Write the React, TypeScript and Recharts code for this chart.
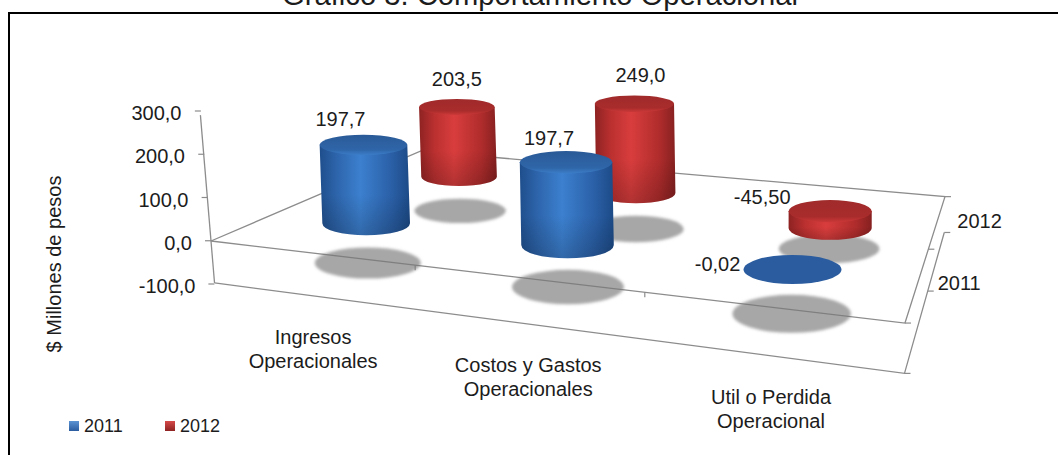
import { Bar, ComposedChart, Legend, XAxis, YAxis } from "recharts";

const categories = ["Ingresos\nOperacionales", "Costos y Gastos\nOperacionales", "Util o Perdida\nOperacional"];
const values2011 = [197.7, 197.7, -0.02];
const values2012 = [203.5, 249.0, -45.5];
const labels2011 = ["197,7", "197,7", "-0,02"];
const labels2012 = ["203,5", "249,0", "-45,50"];
const yTicks = [-100, 0, 100, 200, 300];
const depthLabels = ["2011", "2012"];
const Y_MIN = -100;
const Y_MAX = 300;

const chartData = categories.map((category, i) => ({
	category,
	v2011: values2011[i],
	v2012: values2012[i],
	floor: Y_MIN,
}));

const FONT = '"Liberation Sans", Arial, sans-serif';
const INK = "#1c1c1c";
const AXIS = "#8c8c8c";

// plot area of the flat chart, in page pixels; the custom shapes fold it into 3D
const PLOT = { left: 211, top: 111, width: 694, height: 173 };
const PX_PER_100 = PLOT.height / 4;

// homography of the zero plane: (u along categories, d along depth) to the screen
const H = { a: 543.4, b: 351.9, c: 211, d: 28.3, e: -39.1, f: 241, g: -0.1664, h: 0.3371 };

// the walls lean slightly more than the cylinders do
const WALL_LEAN = 0.000134;
const BAR_LEAN = 0.00007;
const BAR_SHIFT = -2.5;

function project(u: number, d: number, rise = 0, lean = WALL_LEAN) {
	const w = H.g * u + H.h * d + 1;
	const x0 = (H.a * u + H.b * d + H.c) / w;
	const y0 = (H.d * u + H.e * d + H.f) / w;
	return {
		x: x0 - (820 - x0) * lean * rise,
		y: y0 - (rise * 0.97) / w,
		w,
	};
}

// ellipses open up the lower they sit on the screen
const flatten = (y: number) => 0.155 + y * 0.00053;

const uOf = (px: number) => (px - PLOT.left) / PLOT.width;

const SERIES = {
	v2011: {
		name: "2011",
		depth: 0.25,
		labels: labels2011,
		body: "url(#bodyBlue)",
		cap: "url(#capBlue)",
		flat: "#2a5c9f",
		nudge: [[-23, -26], [-17, -24], [-75, -5]],
	},
	v2012: {
		name: "2012",
		depth: 0.75,
		labels: labels2012,
		body: "url(#bodyRed)",
		cap: "url(#capRed)",
		flat: "#a32a2a",
		nudge: [[0, -28], [6, -29], [-68, -14]],
	},
};

function Cylinder(props: any) {
	const { x, width, height, payload, index, seriesKey } = props;
	const s = SERIES[seriesKey as keyof typeof SERIES];
	const value = payload[seriesKey];
	const u = uOf(x + width / 2);
	const rise = Math.abs(height) * Math.sign(value);
	const zero = project(u, s.depth, 0, BAR_LEAN);
	const rx = 46.3 / zero.w;
	const [nx, ny] = s.nudge[index];
	const upper = rise > 0 ? project(u, s.depth, rise, BAR_LEAN) : zero;
	const lower = rise > 0 ? zero : project(u, s.depth, rise, BAR_LEAN);
	const topX = upper.x + BAR_SHIFT;
	const botX = lower.x + BAR_SHIFT;
	const label = (
		<text
			x={topX + nx}
			y={upper.y + ny}
			dy="0.35em"
			textAnchor="middle"
			fontSize={20}
			fontFamily={FONT}
			fill={INK}
		>
			{s.labels[index]}
		</text>
	);

	if (Math.abs(rise) < 1) {
		return (
			<g>
				<ellipse cx={topX} cy={zero.y} rx={rx} ry={rx * flatten(zero.y)} fill={s.flat} />
				{label}
			</g>
		);
	}

	const ryTop = rx * flatten(upper.y);
	const ryBot = rx * flatten(lower.y);
	const body = `M${topX - rx},${upper.y} L${botX - rx},${lower.y} A${rx},${ryBot} 0 0 0 ${botX + rx},${lower.y} L${topX + rx},${upper.y} Z`;
	return (
		<g>
			<path d={body} fill={s.body} />
			<path d={body} fill="url(#bodyFade)" />
			<ellipse cx={topX} cy={upper.y} rx={rx} ry={ryTop} fill={s.cap} />
			{label}
		</g>
	);
}

function Shadow(props: any) {
	const { x, width, height, seriesKey } = props;
	const s = SERIES[seriesKey as keyof typeof SERIES];
	const p = project(uOf(x + width / 2), s.depth, -Math.abs(height));
	const rx = 56 / p.w;
	return (
		<ellipse
			cx={p.x - 3.5}
			cy={p.y}
			rx={rx}
			ry={rx * flatten(p.y)}
			fill="rgba(120,120,120,0.65)"
			filter="url(#shadowBlur)"
		/>
	);
}

function YTick(props: any) {
	const { y, payload } = props;
	const v = payload.value as number;
	const axisX = 211 - v * 0.0338;
	return (
		<g>
			<line x1={axisX - 6} x2={axisX} y1={y} y2={y} stroke={AXIS} strokeWidth={1.2} />
			<text
				x={192 - v * 0.035}
				y={y + 2}
				dy="0.35em"
				textAnchor="end"
				fontSize={20}
				fontFamily={FONT}
				fill={INK}
			>
				{v.toFixed(1).replace(".", ",")}
			</text>
		</g>
	);
}

function XTick(props: any) {
	const { x, payload } = props;
	const p = project(uOf(x), 0, -PX_PER_100);
	const lines = String(payload.value).split("\n");
	return (
		<g>
			{lines.map((line, i) => (
				<text
					key={line}
					x={p.x}
					y={p.y + 41 + i * 24}
					dy="0.35em"
					textAnchor="middle"
					fontSize={20}
					fontFamily={FONT}
					fill={INK}
				>
					{line}
				</text>
			))}
		</g>
	);
}

function pts(list: { x: number; y: number }[]) {
	return list.map((p) => `${p.x},${p.y}`).join(" ");
}

function Floor() {
	const low = -PX_PER_100;
	const edge = { fill: "none", stroke: AXIS, strokeWidth: 1.3 };
	const backZero = [project(0, 0), project(0, 1), project(1, 1), project(1, 0), project(0, 0)];
	const lower = [project(0, 0, low), project(1, 0, low), project(1, 1, low)];
	const rightTicks = [
		project(1, 0),
		project(1, 0.5),
		project(1, 1),
		project(1, 0, low),
		project(1, 0.5, low),
		project(1, 1, low),
	];
	const frontTicks = [project(1 / 3, 0), project(2 / 3, 0)];
	return (
		<g>
			<polyline points={pts(backZero)} {...edge} />
			<polyline points={pts(lower)} {...edge} />
			<polyline points={pts([project(0, 0, PX_PER_100 * 3), project(0, 0, low)])} {...edge} />
			{rightTicks.map((p) => (
				<line key={`${p.x}`} x1={p.x} x2={p.x + 6} y1={p.y} y2={p.y} stroke={AXIS} strokeWidth={1.2} />
			))}
			{frontTicks.map((p) => (
				<line key={p.x} x1={p.x} x2={p.x} y1={p.y} y2={p.y + 5} stroke={AXIS} strokeWidth={1.2} />
			))}
			{depthLabels.map((name, i) => {
				const p = project(1, i === 0 ? 0.25 : 0.75);
				return (
					<text
						key={name}
						x={p.x + 20}
						y={p.y}
						dy="0.35em"
						fontSize={20}
						fontFamily={FONT}
						fill={INK}
					>
						{name}
					</text>
				);
			})}
		</g>
	);
}

function LegendRow() {
	return (
		<div style={{ display: "flex", fontFamily: FONT, fontSize: 18, color: INK, lineHeight: "20px" }}>
			{depthLabels.map((name) => (
				<div key={name} style={{ display: "flex", alignItems: "center", width: 96 }}>
					<span
						style={{
							width: 10,
							height: 10,
							marginRight: 5,
							background:
								name === "2011"
									? "linear-gradient(#5b93d3, #2a5c9f)"
									: "linear-gradient(#d64a4a, #8e2222)",
						}}
					/>
					{name}
				</div>
			))}
		</div>
	);
}

const hiddenAxes = ["shadow2012", "shadow2011", "body2012", "body2011"];

export default function App() {
	return (
		<div style={{ position: "absolute", left: 0, top: 0, width: 1058, height: 455, overflow: "hidden", background: "#fff" }}>
			<ComposedChart
				width={1058}
				height={455}
				data={chartData}
				margin={{ top: PLOT.top, left: PLOT.left - 60, right: 1058 - PLOT.left - PLOT.width, bottom: 111 }}
			>
				<defs>
					<linearGradient id="bodyBlue" x1="0" x2="1" y1="0" y2="0">
						<stop offset="0" stopColor="#1f4e8c" />
						<stop offset="0.2" stopColor="#2e66ad" />
						<stop offset="0.45" stopColor="#3c80cf" />
						<stop offset="0.8" stopColor="#2a5fa6" />
						<stop offset="1" stopColor="#1c4a86" />
					</linearGradient>
					<linearGradient id="bodyRed" x1="0" x2="1" y1="0" y2="0">
						<stop offset="0" stopColor="#8e2222" />
						<stop offset="0.2" stopColor="#bb3030" />
						<stop offset="0.45" stopColor="#d93d3d" />
						<stop offset="0.8" stopColor="#b02c2c" />
						<stop offset="1" stopColor="#862020" />
					</linearGradient>
					<linearGradient id="bodyFade" x1="0" x2="0" y1="0" y2="1">
						<stop offset="0.55" stopColor="#000" stopOpacity={0} />
						<stop offset="1" stopColor="#000" stopOpacity={0.18} />
					</linearGradient>
					<linearGradient id="capBlue" x1="0" x2="0" y1="0" y2="1">
						<stop offset="0" stopColor="#2a5a97" />
						<stop offset="0.75" stopColor="#2f66a9" />
						<stop offset="1" stopColor="#3c7dc8" />
					</linearGradient>
					<linearGradient id="capRed" x1="0" x2="0" y1="0" y2="1">
						<stop offset="0" stopColor="#a02a2a" />
						<stop offset="0.75" stopColor="#a92c2c" />
						<stop offset="1" stopColor="#cc3838" />
					</linearGradient>
					<filter id="shadowBlur" x="-10%" y="-20%" width="120%" height="140%">
						<feGaussianBlur stdDeviation="1.4" />
					</filter>
				</defs>

				<rect x={9} y={13} width={1200} height={600} fill="none" stroke="#000" strokeWidth={2} />
				<text x={540} y={5} textAnchor="middle" fontSize={29.2} fontFamily={FONT} fill={INK}>
					Gráfico 3. Comportamiento Operacional
				</text>
				<text
					transform="translate(61,264) rotate(-90)"
					textAnchor="middle"
					fontSize={20}
					fontFamily={FONT}
					fill={INK}
				>
					$ Millones de pesos
				</text>

				<Floor />

				<XAxis
					dataKey="category"
					xAxisId="front"
					height={40}
					interval={0}
					axisLine={false}
					tickLine={false}
					tick={<XTick />}
				/>
				{hiddenAxes.map((id) => (
					<XAxis key={id} dataKey="category" xAxisId={id} hide />
				))}
				<YAxis
					domain={[Y_MIN, Y_MAX]}
					ticks={yTicks}
					width={60}
					interval={0}
					axisLine={false}
					tickLine={false}
					tick={<YTick />}
				/>

				<Bar
					dataKey="floor"
					xAxisId="shadow2012"
					legendType="none"
					isAnimationActive={false}
					shape={(p: any) => <Shadow {...p} seriesKey="v2012" />}
				/>
				<Bar
					dataKey="floor"
					xAxisId="shadow2011"
					legendType="none"
					isAnimationActive={false}
					shape={(p: any) => <Shadow {...p} seriesKey="v2011" />}
				/>
				<Bar
					dataKey="v2012"
					name="2012"
					xAxisId="body2012"
					isAnimationActive={false}
					shape={(p: any) => <Cylinder {...p} seriesKey="v2012" />}
				/>
				<Bar
					dataKey="v2011"
					name="2011"
					xAxisId="body2011"
					isAnimationActive={false}
					shape={(p: any) => <Cylinder {...p} seriesKey="v2011" />}
				/>

				<Legend
					content={<LegendRow />}
					wrapperStyle={{ position: "absolute", left: 69, top: 416, width: 200, bottom: "auto" }}
				/>
			</ComposedChart>
		</div>
	);
}
